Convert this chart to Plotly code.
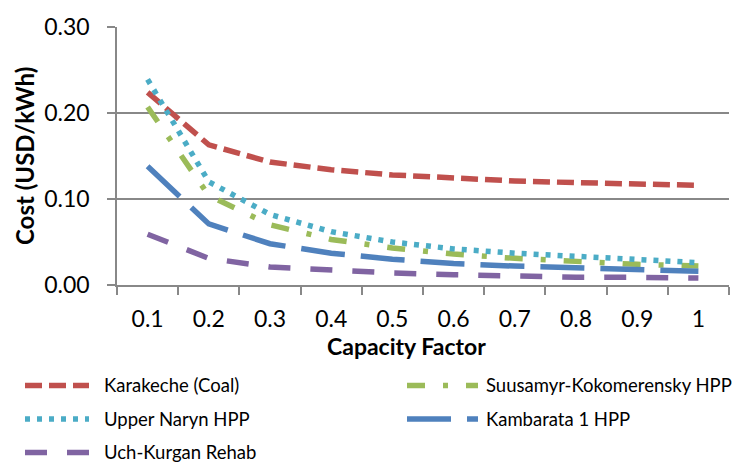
import plotly.graph_objects as go

capacity_factor = ["0.1", "0.2", "0.3", "0.4", "0.5", "0.6", "0.7", "0.8", "0.9", "1"]
karakeche = [0.224, 0.163, 0.143, 0.134, 0.128, 0.124, 0.121, 0.119, 0.117, 0.116]
suusamyr = [0.207, 0.104, 0.070, 0.053, 0.043, 0.036, 0.031, 0.027, 0.024, 0.022]
upper_naryn = [0.239, 0.120, 0.082, 0.062, 0.050, 0.042, 0.037, 0.033, 0.029, 0.026]
kambarata = [0.138, 0.071, 0.048, 0.037, 0.030, 0.025, 0.022, 0.020, 0.018, 0.016]
uch_kurgan = [0.059, 0.031, 0.021, 0.017, 0.014, 0.012, 0.010, 0.009, 0.009, 0.008]

series_names = ["Karakeche (Coal)", "Suusamyr-Kokomerensky HPP", "Upper Naryn HPP",
                "Kambarata 1 HPP", "Uch-Kurgan Rehab"]
series_values = [karakeche, suusamyr, upper_naryn, kambarata, uch_kurgan]
colors = ["#C0504D", "#9BBB59", "#4BACC6", "#4F81BD", "#8064A2"]
dashes = ["17px,7px", "18px,18px,5px,18px", "5px,7px", "44px,16px", "22px,20px"]

FONT = "Lato"
GRAY = "#888888"

W, H = 743, 463
L, R, T, B = 117, 14, 23, 178
PW, PH = W - L - R, H - T - B

fig = go.Figure()
for name, vals, c, d in zip(series_names, series_values, colors, dashes):
    fig.add_trace(go.Scatter(x=capacity_factor, y=vals, mode="lines", name=name,
                             line=dict(color=c, width=5.5, dash=d), showlegend=False))

def px_x(px):
    return (px - L) / PW

def px_y(py):
    return (H - B - py) / PH

# manual legend (two columns)
legend_items = [
    (0, 25, 89, 102, 387),
    (1, 407, 478, 484, 387),
    (2, 25, 89, 102, 421),
    (3, 407, 478, 484, 421),
    (4, 25, 89, 102, 455),
]
shapes = []
annotations = []
for idx, x0, x1, tx, ty in legend_items:
    shapes.append(dict(type="line", xref="paper", yref="paper",
                       x0=px_x(x0), x1=px_x(x1), y0=px_y(ty), y1=px_y(ty),
                       line=dict(color=colors[idx], width=5.5, dash=dashes[idx])))
    annotations.append(dict(xref="paper", yref="paper", x=px_x(tx), y=px_y(ty),
                            xanchor="left", yanchor="middle", showarrow=False,
                            text=series_names[idx], font=dict(family=FONT, size=18.5, color="#000")))

annotations.append(dict(xref="paper", yref="paper", x=px_x(406), y=px_y(347),
                        xanchor="center", yanchor="middle", showarrow=False,
                        text="<b>Capacity Factor</b>", font=dict(family=FONT, size=23, color="#000")))
annotations.append(dict(xref="paper", yref="paper", x=px_x(24), y=px_y(154),
                        xanchor="center", yanchor="middle", showarrow=False, textangle=-90,
                        text="<b>Cost (USD/kWh)</b>", font=dict(family=FONT, size=24, color="#000")))

fig.update_layout(
    width=W, height=H,
    margin=dict(l=L, r=R, t=T, b=B),
    paper_bgcolor="white", plot_bgcolor="white",
    font=dict(family=FONT, size=22, color="#000"),
    shapes=shapes, annotations=annotations,
    showlegend=False,
)
fig.update_xaxes(type="category", range=[-0.5, 9.5], tickson="boundaries",
                 ticks="outside", ticklen=8, tickcolor=GRAY, tickwidth=1.5,
                 showline=True, linecolor=GRAY, linewidth=1.5, showgrid=False,
                 ticklabelstandoff=13, tickfont=dict(family=FONT, size=23, color="#000"))
fig.update_yaxes(range=[0, 0.3], dtick=0.1, tickformat=".2f",
                 ticks="outside", ticklen=8, tickcolor=GRAY, tickwidth=1.5,
                 showline=True, linecolor=GRAY, linewidth=1.5,
                 showgrid=True, gridcolor=GRAY, gridwidth=1.5, zeroline=False,
                 ticklabelstandoff=13, tickfont=dict(family=FONT, size=23, color="#000"))

fig.write_html("out.html", config={"displayModeBar": False},
               post_script="document.body.style.margin='0';document.body.style.padding='0';")
